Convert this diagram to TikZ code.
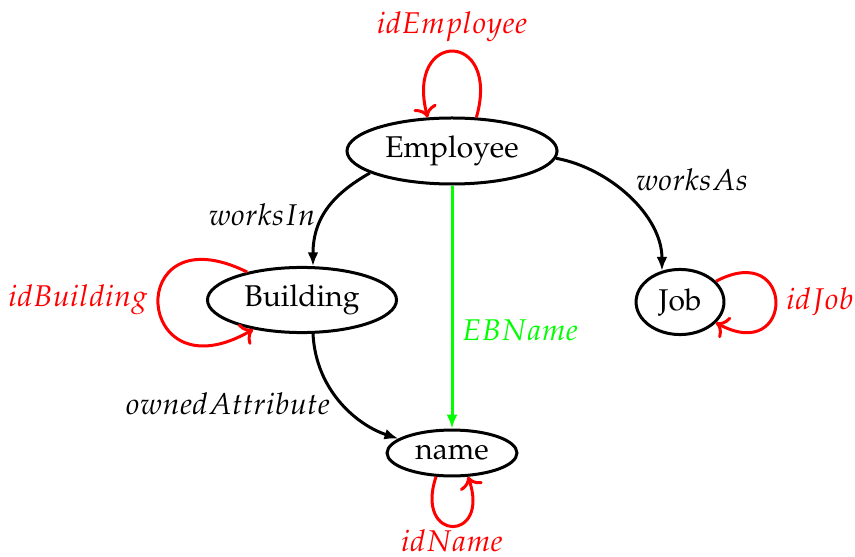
\documentclass[tikz,border=0pt]{standalone}
\usepackage[T1]{fontenc}
\usepackage{mathpazo}
\usetikzlibrary{shapes.geometric,arrows.meta}
\begin{document}
\begin{tikzpicture}[x=0.3333pt,y=-0.3333pt,
  ent/.style={draw,ellipse,line width=1pt,inner sep=0pt},
  relarrow/.style={line width=1pt,-{Latex[length=4.6pt,width=3.6pt]}},
  idloop/.style={red,line width=1pt,->},
  idlab/.style={red,inner sep=0pt},
  rellab/.style={inner sep=0pt}]
\useasboundingbox (0,0) rectangle (855,557);
\node[ent,minimum width=70pt,minimum height=22pt] (emp) at (452,151) {Employee};
\node[ent,minimum width=63pt,minimum height=21.7pt] (bld) at (302,300) {Building};
\node[ent,minimum width=29.3pt,minimum height=21.7pt] (job) at (680,302) {Job};
\node[ent,minimum width=43.3pt,minimum height=15.3pt] (nm) at (452,453) {name};
% loops
\draw[idloop] (emp.54) .. controls +(25,-88) and +(-23,-88) .. (emp.126);
\draw[idloop] (bld.153) .. controls +(-125,-62) and +(-120,70) .. (bld.211);
\draw[idloop] (job.30) .. controls +(80,-42) and +(79,43) .. (job.-30);
\draw[idloop] (nm.236) .. controls +(-22,66) and +(23,66) .. (nm.304);
\node[idlab] (lemp) at (452,27) {$idEmployee$};
\node[idlab] (lbld) at (78,300) {$idBuilding$};
\node[idlab] (ljob) at (820,302) {$idJob$};
\node[idlab] (lnm) at (452,541) {$idName$};
% relations
\draw[relarrow] (emp.195) .. controls +(-35,20) and +(0,-50) .. (bld.72);
\draw[relarrow] (emp.-4) .. controls +(54,10) and +(0,-55) .. (job.120);
\draw[relarrow] (bld.-72) .. controls +(3,58) and +(-40,-13) .. (nm.165);
\draw[relarrow,green] (emp.south) -- (nm.north);
\node[rellab] (lwi) at (262,215) {$worksIn$};
\node[rellab] (lwa) at (692,180) {$worksAs$};
\node[rellab,green] (leb) at (520,330) {$EBName$};
\node[rellab] (loa) at (228,404) {$ownedAttribute$};
\end{tikzpicture}
\end{document}
